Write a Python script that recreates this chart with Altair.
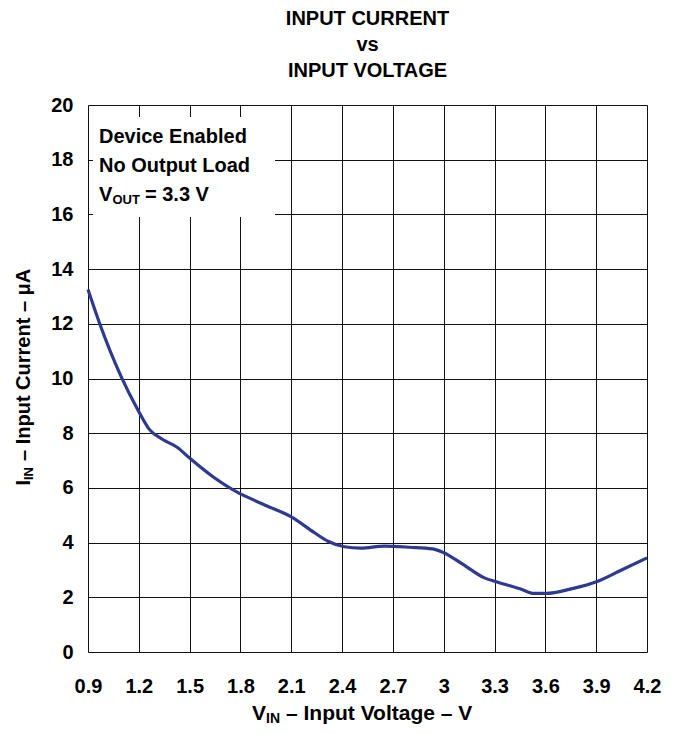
import altair as alt
import pandas as pd

# ---- data ----
vin = [0.9, 0.967, 1.095, 1.193, 1.262, 1.341, 1.43, 1.498, 1.646, 1.794, 1.863,
       1.96, 2.1, 2.237, 2.316, 2.414, 2.51, 2.65, 2.8, 2.935, 3.0, 3.1, 3.24,
       3.32, 3.45, 3.535, 3.605, 3.753, 3.91, 4.05, 4.2]
iin = [13.25, 12.04, 10.08, 8.87, 8.14, 7.77, 7.47, 7.1, 6.37, 5.8, 5.6,
       5.33, 4.94, 4.36, 4.05, 3.85, 3.8, 3.87, 3.83, 3.77, 3.63, 3.26, 2.71,
       2.55, 2.31, 2.14, 2.14, 2.31, 2.59, 3.0, 3.44]
x_ticks = [0.9, 1.2, 1.5, 1.8, 2.1, 2.4, 2.7, 3.0, 3.3, 3.6, 3.9, 4.2]
y_ticks = [0, 2, 4, 6, 8, 10, 12, 14, 16, 18, 20]
title_lines = ["INPUT CURRENT", "vs", "INPUT VOLTAGE"]
note_lines = ["Device Enabled", "No Output Load"]
vout_parts = ["V", "OUT", "= 3.3 V"]
x_title_parts = ["V", "IN", "\u2013 Input Voltage \u2013 V"]
y_title_parts = ["I", "IN", "\u2013 Input Current \u2013 \u03bcA"]

FONT = "Liberation Sans, Arial, Helvetica, sans-serif"
W, H = 559, 547

df = pd.DataFrame({"vin": vin, "iin": iin})
one = alt.Data(values=[{"k": 1}])

base = alt.Chart(df)
line = base.mark_line(color="#2d3a8f", strokeWidth=3.2, interpolate="monotone").encode(
    x=alt.X("vin:Q",
            scale=alt.Scale(domain=[0.9, 4.2], nice=False, zero=False),
            axis=alt.Axis(values=x_ticks, format=".1~f", title=None, ticks=False,
                          domain=False, grid=True, gridColor="#111", gridWidth=1,
                          labelFont=FONT, labelFontSize=20, labelFontWeight="bold",
                          labelColor="black", labelPadding=24, labelFlush=False)),
    y=alt.Y("iin:Q",
            scale=alt.Scale(domain=[0, 20], nice=False, zero=True),
            axis=alt.Axis(values=y_ticks, title=None, ticks=False, domain=False,
                          grid=True, gridColor="#111", gridWidth=1,
                          labelFont=FONT, labelFontSize=20, labelFontWeight="bold",
                          labelColor="black", labelPadding=15)),
)

def txt(text, x, y, size=20, align="left", angle=0):
    kw = dict(font=FONT, fontSize=size, fontWeight="bold", color="black",
              align=align, baseline="alphabetic")
    if angle:
        kw["angle"] = angle
    return alt.Chart(one).mark_text(**kw).encode(
        x=alt.value(x), y=alt.value(y), text=alt.value(text))

box = alt.Chart(one).mark_rect(fill="white", stroke=None).encode(
    x=alt.value(5), x2=alt.value(187), y=alt.value(12), y2=alt.value(112))

layers = [line, box]
# title
for t, yy in zip(title_lines, [-80.5, -54.5, -28.5]):
    layers.append(txt(t, W / 2, yy, size=20, align="center"))
# note box
layers.append(txt(note_lines[0], 11, 38))
layers.append(txt(note_lines[1], 11, 67))
layers.append(txt(vout_parts[0], 11, 96))
layers.append(txt(vout_parts[1], 24.5, 98.5, size=13))
layers.append(txt(vout_parts[2], 57, 96))
# x axis title
layers.append(txt(x_title_parts[0], 178, 615, size=21, align="right"))
layers.append(txt(x_title_parts[1], 192, 618, size=14, align="right"))
layers.append(txt(x_title_parts[2], 198, 615, size=21, align="left"))
# y axis title (rotated)
layers.append(txt(y_title_parts[0], -58, 375, size=20, align="right", angle=270))
layers.append(txt(y_title_parts[1], -55, 362, size=13, align="right", angle=270))
layers.append(txt(y_title_parts[2], -58, 356, size=20, align="left", angle=270))

chart = alt.layer(*layers).properties(
    width=W, height=H,
    padding={"left": 80, "top": 97, "right": 20, "bottom": 74},
    autosize=alt.AutoSizeParams(type="none"),
).configure_view(stroke="black", strokeWidth=2).configure(background="white")

chart.save("out.html", embed_options={"renderer": "svg", "actions": False})
